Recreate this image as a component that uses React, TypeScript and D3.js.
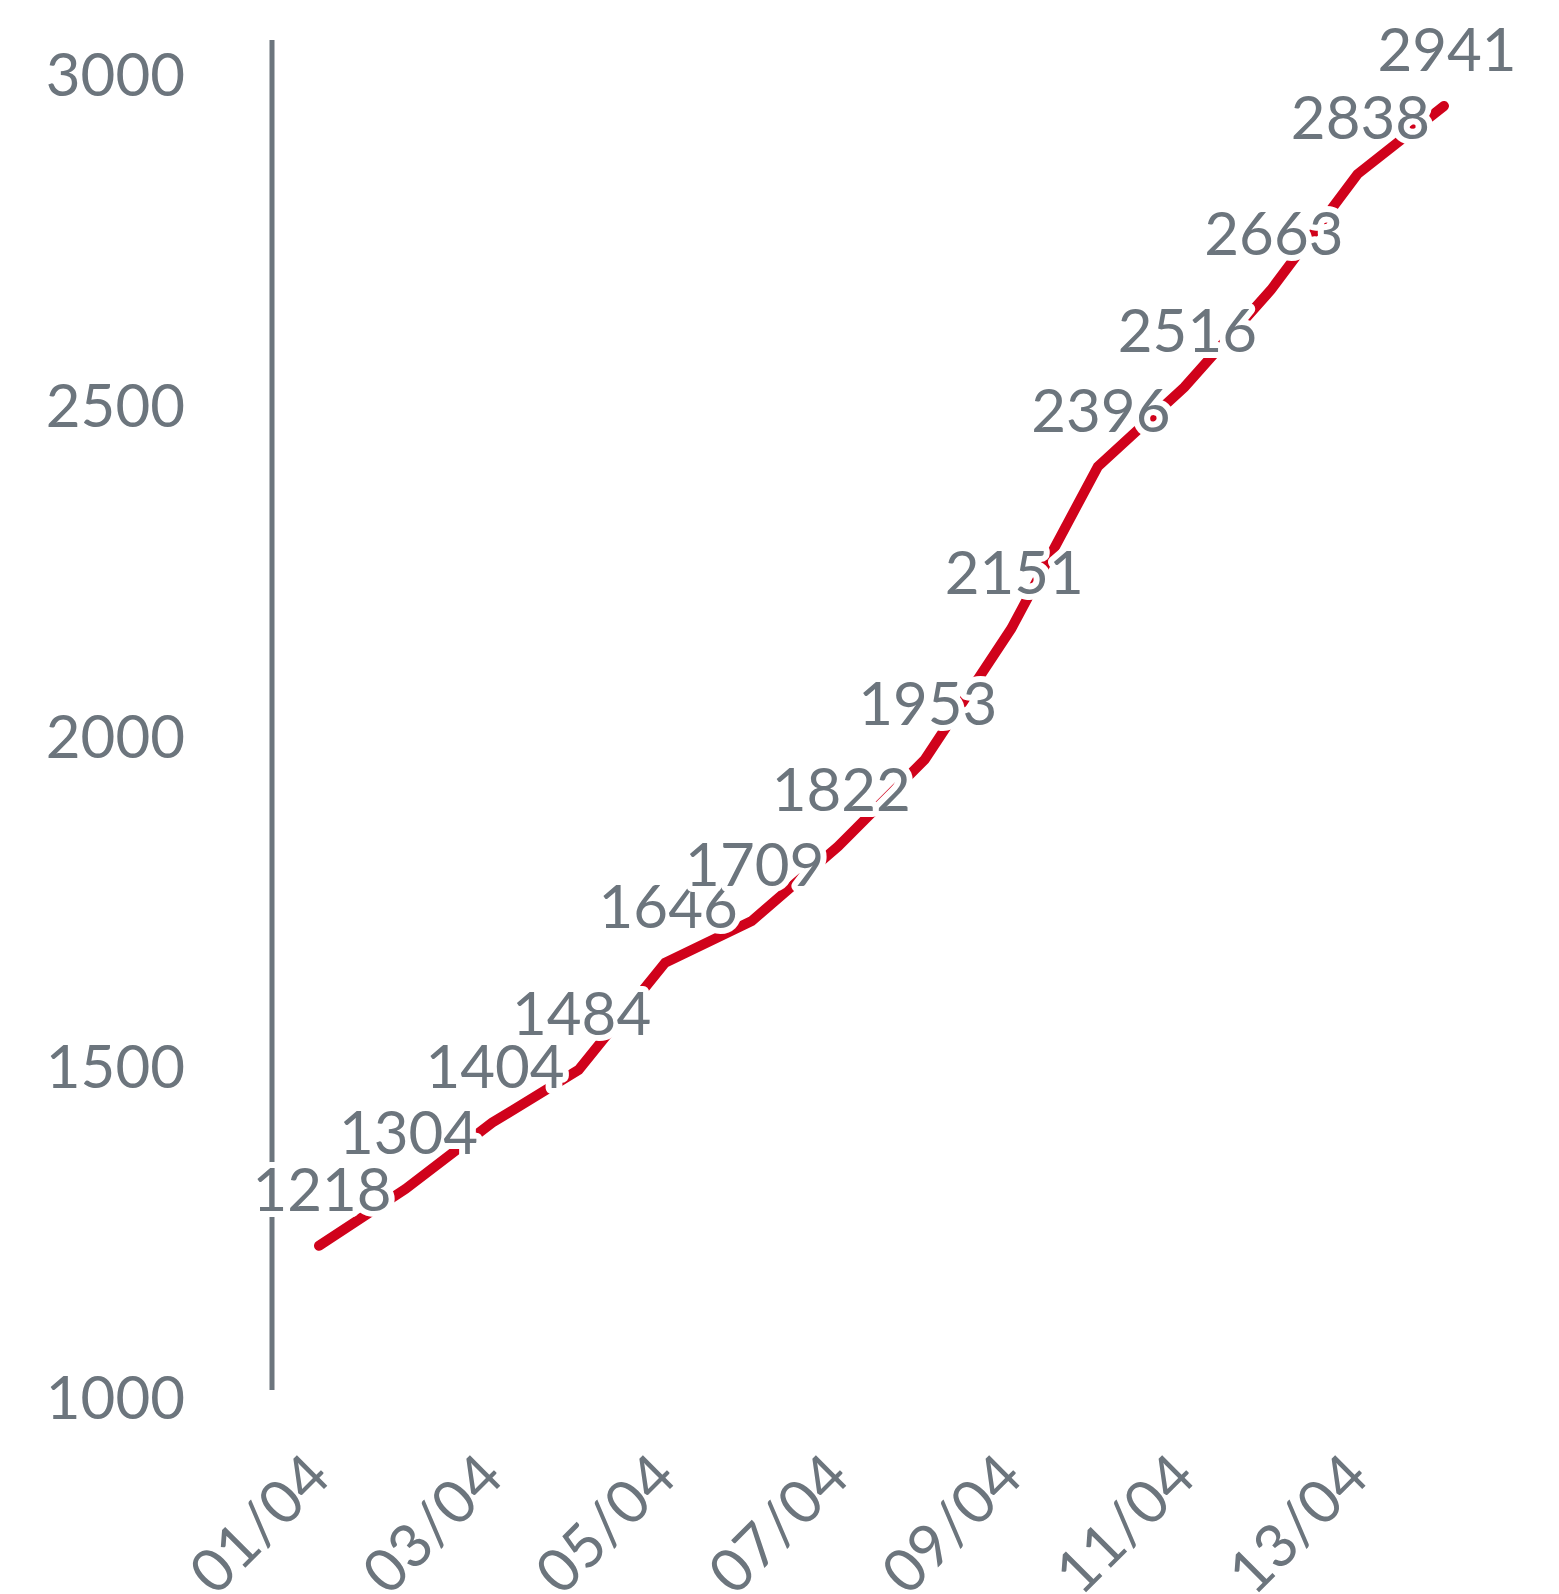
import React, { useRef, useEffect } from 'react';
import * as d3 from 'd3';

// daily totals, 01/04 .. 14/04
const days = ['01/04', '02/04', '03/04', '04/04', '05/04', '06/04', '07/04',
  '08/04', '09/04', '10/04', '11/04', '12/04', '13/04', '14/04'];
const totals = [1218, 1304, 1404, 1484, 1646, 1709, 1822, 1953, 2151, 2396, 2516, 2663, 2838, 2941];
const yTicks = [1000, 1500, 2000, 2500, 3000];
const xTickDays = ['01/04', '03/04', '05/04', '07/04', '09/04', '11/04', '13/04'];

const grey = '#6c757d';
const red = '#d0021b';
const font = 'Lato, "Open Sans", sans-serif';

const App = () => {
  const svgRef = useRef<SVGSVGElement>(null);

  useEffect(() => {
    const w = 1559;
    const h = 1594;
    const svg = d3.select(svgRef.current)
      .attr('width', w)
      .attr('height', h);
    svg.selectAll('*').remove();

    const x = d3.scalePoint<string>().domain(days).range([319, 1444]);
    const y = d3.scaleLinear().domain([1000, 3000]).range([1390, 67]);

    // y axis: bare line plus labels
    svg.append('line')
      .attr('x1', 272).attr('x2', 272)
      .attr('y1', 40).attr('y2', y(1000))
      .attr('stroke', grey)
      .attr('stroke-width', 5);

    svg.append('g')
      .selectAll('text')
      .data(yTicks)
      .join('text')
      .attr('x', 185)
      .attr('y', d => y(d) + 6)
      .attr('text-anchor', 'end')
      .attr('dominant-baseline', 'central')
      .attr('font-family', font)
      .attr('font-size', 60)
      .attr('fill', grey)
      .text(d => d);

    // x labels, rotated
    svg.append('g')
      .selectAll('text')
      .data(xTickDays)
      .join('text')
      .attr('transform', d => `translate(${(x(d) as number) + 14}, 1480) rotate(-45)`)
      .attr('text-anchor', 'end')
      .attr('font-family', font)
      .attr('font-size', 60)
      .attr('fill', grey)
      .text(d => d);

    // the line
    const line = d3.line<number>()
      .x((d, i) => x(days[i]) as number)
      .y(d => y(d));

    svg.append('path')
      .datum(totals)
      .attr('d', line)
      .attr('fill', 'none')
      .attr('stroke', red)
      .attr('stroke-width', 10)
      .attr('stroke-linecap', 'round')
      .attr('stroke-linejoin', 'miter');

    // value labels with white halo
    svg.append('g')
      .selectAll('text')
      .data(totals)
      .join('text')
      .attr('x', (d, i) => (x(days[i]) as number) + 3)
      .attr('y', d => y(d) - 35)
      .attr('text-anchor', 'middle')
      .attr('font-family', font)
      .attr('font-size', 60)
      .attr('fill', grey)
      .attr('stroke', 'white')
      .attr('stroke-width', 12)
      .attr('stroke-linejoin', 'round')
      .attr('paint-order', 'stroke')
      .text(d => d);
  }, []);

  return (
    <div>
      <svg ref={svgRef} style={{ position: 'absolute', left: 0, top: 0, display: 'block' }}></svg>
    </div>
  );
};

export default App;
